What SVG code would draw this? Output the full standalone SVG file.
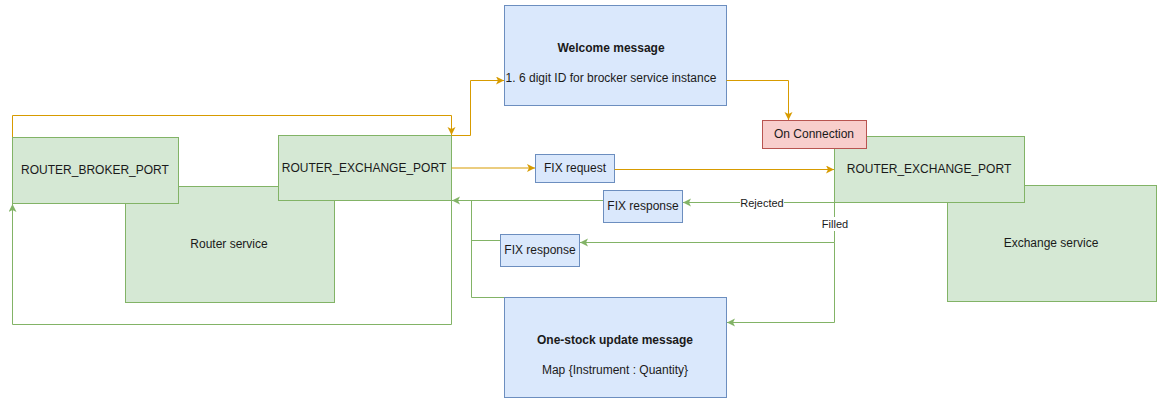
<svg xmlns="http://www.w3.org/2000/svg" width="1162" height="403" viewBox="0 0 1162 403">
<style>
.green{fill:#d5e8d4;stroke:#82b366;stroke-width:1}
.blue{fill:#dae8fc;stroke:#6c8ebf;stroke-width:1}
.red{fill:#f8cecc;stroke:#b85450;stroke-width:1}
text{font-family:"Liberation Sans",Arial,sans-serif;font-size:12px;fill:#1a1a1a;text-anchor:middle;dominant-baseline:central}
.b{font-weight:bold}
.lbl{font-size:11px}
.eo{fill:none;stroke:#d79b00;stroke-width:1}
.eg{fill:none;stroke:#82b366;stroke-width:1}
</style>
<defs>
<marker id="ao" markerUnits="userSpaceOnUse" markerWidth="10" markerHeight="10" refX="8" refY="4" orient="auto"><path d="M0,0 L8,4 L0,8 L2,4 z" fill="#d79b00"/></marker>
<marker id="ag" markerUnits="userSpaceOnUse" markerWidth="10" markerHeight="10" refX="8" refY="4" orient="auto"><path d="M0,0 L8,4 L0,8 L2,4 z" fill="#82b366"/></marker>
</defs>
<rect width="1162" height="403" fill="#ffffff"/>
<g id="router-service"><rect class="green" x="125.5" y="186.5" width="209" height="116"/><text x="229" y="244">Router service</text></g>
<g id="exchange-service"><rect class="green" x="947.5" y="185.5" width="209" height="116"/><text x="1051" y="243">Exchange service</text></g>
<g id="router-broker-port"><rect class="green" x="12.5" y="137.5" width="166" height="66"/><text x="95" y="170">ROUTER_BROKER_PORT</text></g>
<g id="router-exchange-port"><rect class="green" x="278.5" y="135.5" width="173" height="65"/><text x="364" y="168">ROUTER_EXCHANGE_PORT</text></g>
<g id="exchange-port"><rect class="green" x="834.5" y="136.5" width="190" height="66"/><text x="929" y="169">ROUTER_EXCHANGE_PORT</text></g>
<g id="on-connection"><rect class="red" x="762.5" y="120.5" width="104" height="28"/><text x="814" y="134">On Connection</text></g>
<g id="welcome"><rect class="blue" x="504.5" y="5.5" width="222" height="100"/><text class="b" x="611" y="48">Welcome message</text><text x="611" y="78">1. 6 digit ID for brocker service instance</text></g>
<g id="fix-request"><rect class="blue" x="535.5" y="154.5" width="79" height="28"/><text x="575" y="168">FIX request</text></g>
<g id="fix-response-1"><rect class="blue" x="603.5" y="190.5" width="79" height="32"/><text x="643" y="206">FIX response</text></g>
<g id="fix-response-2"><rect class="blue" x="500.5" y="234.5" width="79" height="32"/><text x="540" y="250">FIX response</text></g>
<g id="one-stock"><rect class="blue" x="504.5" y="297.5" width="222" height="100"/><text class="b" x="615" y="340">One-stock update message</text><text x="615" y="370">Map {Instrument : Quantity}</text></g>
<g id="connectors">
<path class="eo" d="M12.5,137 V115.5 H451.5 V135" marker-end="url(#ao)"/>
<path class="eo" d="M451.5,135.5 H470.5 V80.5 H504" marker-end="url(#ao)"/>
<path class="eo" d="M726.5,80.5 H788.5 V120" marker-end="url(#ao)"/>
<path class="eo" d="M451.5,168 H535" marker-end="url(#ao)"/>
<path class="eo" d="M614.5,169.5 H834" marker-end="url(#ao)"/>
<path class="eg" d="M834,202.5 H683" marker-end="url(#ag)"/>
<path class="eg" d="M603,200.5 H452" marker-end="url(#ag)"/>
<path class="eg" d="M504,297.5 H471.5 V200.5"/>
<path class="eg" d="M500,240.5 H471.5"/>
<path class="eg" d="M834.5,202.5 V242.5 H580" marker-end="url(#ag)"/>
<path class="eg" d="M834.5,242.5 V322.5 H727" marker-end="url(#ag)"/>
<path class="eg" d="M451.5,200.5 V324.5 H12.5 V204" marker-end="url(#ag)"/>
<rect x="740" y="196" width="44" height="14" fill="#ffffff"/>
<text class="lbl" x="762" y="203">Rejected</text>
<rect x="821" y="217" width="28" height="14" fill="#ffffff"/>
<text class="lbl" x="835" y="224">Filled</text>
</g>
</svg>
